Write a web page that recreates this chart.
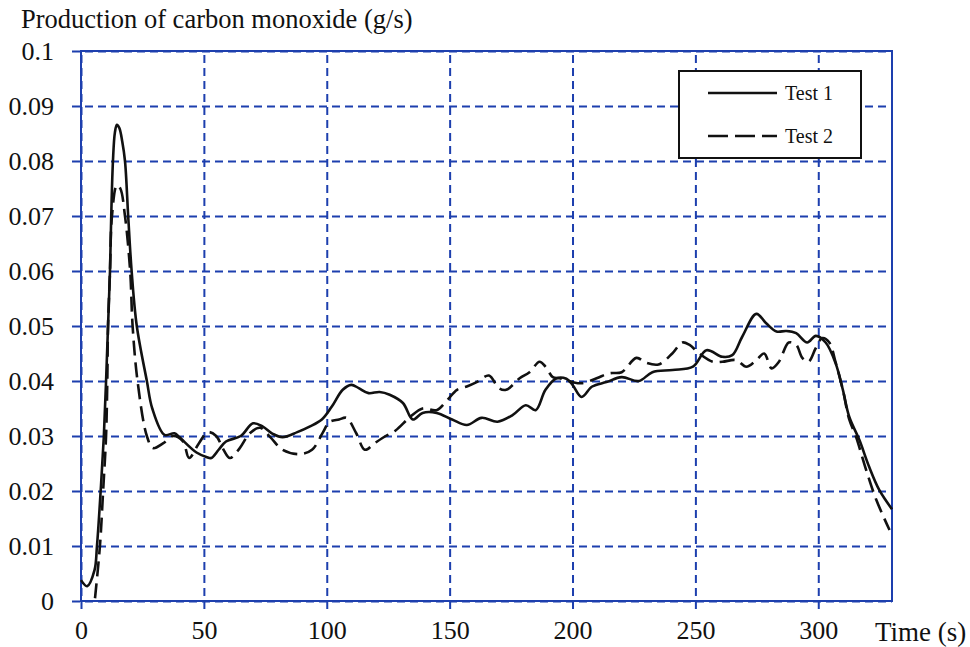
<!DOCTYPE html>
<html>
<head>
<meta charset="utf-8">
<script src="https://cdn.jsdelivr.net/npm/d3@7"></script>
<style>
  body { margin: 0; background: #fff; }
  text { font-family: "Liberation Serif", "Times New Roman", serif; fill: #111; }
</style>
</head>
<body>
<div id="chart"></div>
<script>
// time (s) and CO production (g/s)
var test1Time = [0, 2.5, 5.5, 6.5, 8, 9.3, 10.2, 11, 11.8, 12.3, 13, 13.8, 14.6, 15.6, 16.8, 17.9, 19.2, 20.6, 22.7, 26.8, 29, 34, 38, 40, 47, 51, 53, 56, 59, 65, 70, 74, 78, 82, 88, 93, 98, 102, 106.5, 110, 113, 117, 121.5, 125.6, 131, 135, 139, 144.7, 151, 157, 163, 169.5, 175.6, 181, 185, 189, 193.5, 197.5, 200, 203.7, 208, 213.8, 220, 227, 232.5, 240.7, 249, 254.5, 261, 265, 269, 274.8, 278.8, 283, 287, 291, 295.5, 299, 303, 307, 310, 312.6, 316.7, 320.7, 324.8, 330];
var test1Value = [0.0038, 0.0027, 0.0056, 0.01, 0.02, 0.03, 0.04, 0.05, 0.06, 0.07, 0.08, 0.0852, 0.0866, 0.086, 0.0835, 0.08, 0.07, 0.06, 0.05, 0.04, 0.035, 0.0302, 0.0305, 0.0298, 0.027, 0.0262, 0.026, 0.0275, 0.029, 0.030, 0.0323, 0.0317, 0.0304, 0.0298, 0.0307, 0.0317, 0.033, 0.0353, 0.0384, 0.0393, 0.0387, 0.0378, 0.038, 0.0375, 0.036, 0.033, 0.0342, 0.0342, 0.033, 0.032, 0.0333, 0.0326, 0.0338, 0.0356, 0.0347, 0.0384, 0.0405, 0.0404, 0.0393, 0.0371, 0.039, 0.0398, 0.0407, 0.040, 0.0416, 0.042, 0.0426, 0.0456, 0.0444, 0.0447, 0.048, 0.0522, 0.0505, 0.049, 0.0491, 0.0487, 0.047, 0.0482, 0.047, 0.0433, 0.0384, 0.0335, 0.0293, 0.0244, 0.0202, 0.0167];

var test2Time = [5.7, 7.7, 9, 10.2, 10.7, 11, 11.8, 12.6, 14.6, 16, 17.9, 20, 21, 23, 26.8, 29.3, 33.5, 37.5, 41.5, 44, 48, 51.6, 55, 58, 60.6, 64.6, 68.7, 72.8, 77, 82, 89, 94, 98.5, 101, 105, 108, 112, 115.5, 119.5, 124, 128, 134, 139, 144.7, 149, 153, 157, 161, 166, 170, 173, 178.5, 182.5, 186.6, 189, 192, 194.7, 200, 204, 209.8, 215, 220, 226, 230, 235, 240.6, 244.7, 247.5, 251.6, 257, 261, 266.6, 270.7, 274.8, 278, 281, 284, 288, 291, 293.5, 296, 299, 301.6, 304.5, 307, 310, 312.6, 315.4, 319.5, 323.6, 329];
var test2Value = [0.0005, 0.01, 0.02, 0.03, 0.04, 0.05, 0.06, 0.07, 0.0756, 0.075, 0.07, 0.06, 0.05, 0.04, 0.03, 0.0278, 0.0287, 0.030, 0.029, 0.026, 0.0287, 0.0307, 0.030, 0.0275, 0.026, 0.0278, 0.0305, 0.0315, 0.0298, 0.0275, 0.0267, 0.0275, 0.0307, 0.0325, 0.033, 0.0333, 0.0305, 0.0275, 0.0287, 0.030, 0.031, 0.0335, 0.035, 0.0347, 0.0365, 0.0384, 0.039, 0.0398, 0.041, 0.0387, 0.0384, 0.0405, 0.0416, 0.0435, 0.0426, 0.0407, 0.0405, 0.0398, 0.0396, 0.0405, 0.0414, 0.0416, 0.0442, 0.0433, 0.043, 0.045, 0.047, 0.0466, 0.045, 0.0435, 0.0435, 0.0438, 0.0426, 0.0438, 0.045, 0.0423, 0.0435, 0.047, 0.0466, 0.0442, 0.0435, 0.046, 0.0478, 0.047, 0.0435, 0.0384, 0.033, 0.0298, 0.0238, 0.0184, 0.0129];

var xTicks = [0, 50, 100, 150, 200, 250, 300];
var yTicks = [0, 0.01, 0.02, 0.03, 0.04, 0.05, 0.06, 0.07, 0.08, 0.09, 0.1];
var seriesNames = ["Test 1", "Test 2"];

var width = 970,
  height = 647;
var margin = { left: 81, right: 78, top: 51, bottom: 46 };
var blue = "#1d3fae";

var svg = d3
  .select("#chart")
  .append("svg")
  .attr("width", width)
  .attr("height", height);

var x = d3
  .scaleLinear()
  .domain([0, 330])
  .range([margin.left, width - margin.right]);
var y = d3
  .scaleLinear()
  .domain([0, 0.1])
  .range([height - margin.bottom, margin.top]);

// dashed grid, ticks stick out left / below the frame
var yAxis = d3
  .axisLeft(y)
  .tickValues(yTicks)
  .tickSize(-(x.range()[1] - x.range()[0]) - 9)
  .tickFormat(function (d) {
    return d === 0 ? "0" : d3.format(".2~f")(d);
  });
svg
  .append("g")
  .attr("transform", "translate(" + (margin.left - 9) + ",0)")
  .call(yAxis)
  .call(function (g) {
    g.select(".domain").remove();
    g.selectAll(".tick line")
      .attr("stroke", blue)
      .attr("stroke-width", 2)
      .attr("stroke-dasharray", "8,5");
    g.selectAll(".tick text")
      .attr("font-size", 26)
      .attr("x", -18)
      .attr("fill", "#111");
  });

var xAxis = d3
  .axisBottom(x)
  .tickValues(xTicks)
  .tickSize(-(y.range()[0] - y.range()[1]) - 8)
  .tickFormat(d3.format("d"));
svg
  .append("g")
  .attr("transform", "translate(0," + (height - margin.bottom + 8) + ")")
  .call(xAxis)
  .call(function (g) {
    g.select(".domain").remove();
    g.selectAll(".tick line")
      .attr("stroke", blue)
      .attr("stroke-width", 2)
      .attr("stroke-dasharray", "8,5");
    g.selectAll(".tick text")
      .attr("font-size", 26)
      .attr("y", 12)
      .attr("fill", "#111");
  });

// frame
svg
  .append("rect")
  .attr("x", x.range()[0])
  .attr("y", y.range()[1])
  .attr("width", x.range()[1] - x.range()[0])
  .attr("height", y.range()[0] - y.range()[1])
  .attr("fill", "none")
  .attr("stroke", blue)
  .attr("stroke-width", 2);

var line = d3
  .line()
  .x(function (d) {
    return x(d[0]);
  })
  .y(function (d) {
    return y(d[1]);
  })
  .curve(d3.curveCatmullRom.alpha(0.5));

var series = [
  { name: seriesNames[0], data: d3.zip(test1Time, test1Value), dash: null },
  { name: seriesNames[1], data: d3.zip(test2Time, test2Value), dash: "15,7" },
];

svg
  .selectAll(".series")
  .data(series)
  .enter()
  .append("path")
  .attr("class", "series")
  .attr("d", function (d) {
    return line(d.data);
  })
  .attr("fill", "none")
  .attr("stroke", "#111")
  .attr("stroke-width", 2.6)
  .attr("stroke-linejoin", "round")
  .attr("stroke-dasharray", function (d) {
    return d.dash;
  });

// legend
var legend = svg.append("g").attr("transform", "translate(679,71)");
legend
  .append("rect")
  .attr("width", 182)
  .attr("height", 87)
  .attr("fill", "#fff")
  .attr("stroke", "#111")
  .attr("stroke-width", 2);

var item = legend
  .selectAll(".item")
  .data(series)
  .enter()
  .append("g")
  .attr("class", "item")
  .attr("transform", function (d, i) {
    return "translate(0," + (22 + i * 43) + ")";
  });
item
  .append("line")
  .attr("x1", 29)
  .attr("x2", 98)
  .attr("stroke", "#111")
  .attr("stroke-width", 2.6)
  .attr("stroke-dasharray", function (d, i) {
    return i ? "20,7" : null;
  });
item
  .append("text")
  .attr("x", 106)
  .attr("dy", "0.35em")
  .attr("font-size", 20)
  .text(function (d) {
    return d.name;
  });

// axis titles
svg
  .append("text")
  .attr("x", 21)
  .attr("y", 28)
  .attr("font-size", 26.5)
  .text("Production of carbon monoxide (g/s)");
svg
  .append("text")
  .attr("x", 875)
  .attr("y", 641)
  .attr("font-size", 27)
  .text("Time (s)");
</script>
</body>
</html>
